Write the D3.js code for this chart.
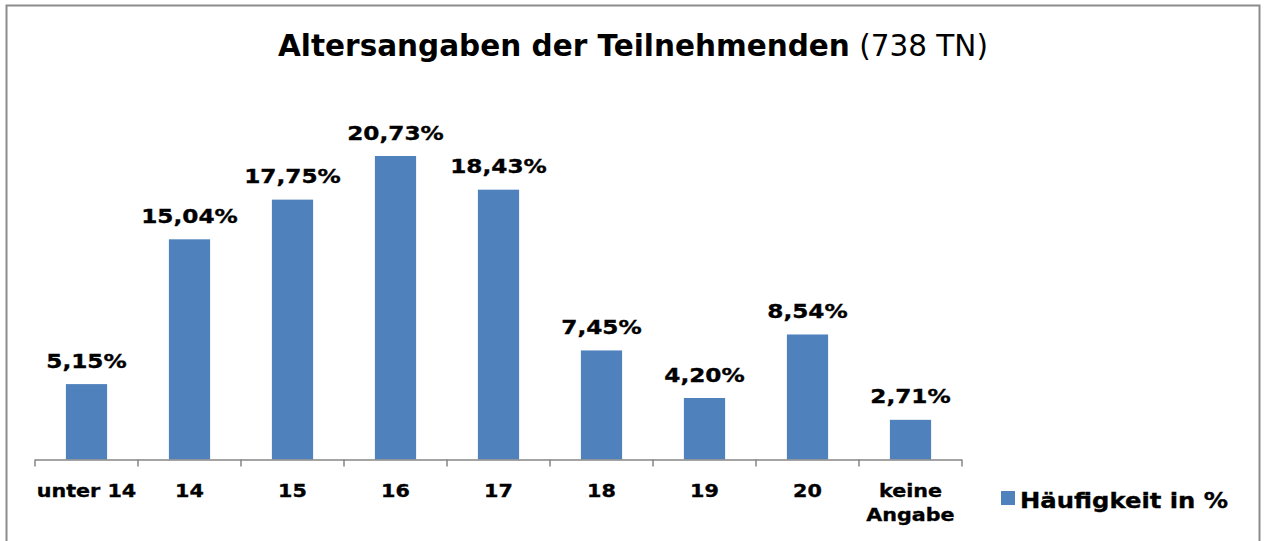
<!DOCTYPE html>
<html>
<head>
<meta charset="utf-8">
<script src="https://cdn.jsdelivr.net/npm/d3@7"></script>
<style>
  body { margin: 0; background: #fff; }
  svg { display: block; font-family: "DejaVu Sans", Verdana, sans-serif; }
  .wide { stroke: #000; stroke-width: 0.35; }
</style>
</head>
<body>
<svg id="chart" width="1264" height="541"></svg>
<script>
"use strict";

const categories = ["unter 14", "14", "15", "16", "17", "18", "19", "20", "keine Angabe"];
const values = [5.15, 15.04, 17.75, 20.73, 18.43, 7.45, 4.20, 8.54, 2.71];
const seriesName = "Häufigkeit in %";
const titleBold = "Altersangaben der Teilnehmenden";
const titleNormal = " (738 TN)";

const svg = d3.select("#chart"),
    left = 35, right = 962, base = 459.5;

// outer border of the chart area
svg.append("rect")
    .attr("x", 6.5).attr("y", 5.5)
    .attr("width", 1253).attr("height", 545)
    .attr("fill", "none").attr("stroke", "#8c8c8c").attr("stroke-width", 2);

const x = d3.scaleBand().domain(categories).range([left, right]).paddingInner(0.6).paddingOuter(0.3),
    y = d3.scaleLinear().domain([0, 25]).range([base, base - 25 * 14.64]);

svg.append("text")
    .attr("x", 633).attr("y", 56)
    .attr("text-anchor", "middle")
    .attr("font-size", 29.5)
    .call(t => {
        t.append("tspan").attr("font-weight", "bold").text(titleBold);
        t.append("tspan").attr("font-weight", "normal").text(titleNormal);
    });

svg.selectAll(".bar")
    .data(values)
    .enter().append("rect")
    .attr("class", "bar")
    .attr("x", (d, i) => x(categories[i]))
    .attr("y", d => y(d))
    .attr("width", x.bandwidth())
    .attr("height", d => base - y(d))
    .attr("fill", "#4f81bd");

// Verdana is wider than DejaVu, so stretch labels horizontally
svg.selectAll(".val")
    .data(values)
    .enter().append("text")
    .attr("class", "val wide")
    .attr("transform", (d, i) =>
        `translate(${x(categories[i]) + x.bandwidth() / 2},${y(d) - 16.5}) scale(1.16,1)`)
    .attr("text-anchor", "middle")
    .attr("font-size", 20)
    .attr("font-weight", "bold")
    .text(d => d.toFixed(2).replace(".", ",") + "%");

// x axis: ticks at band boundaries
const step = (right - left) / categories.length;
const axis = svg.append("g").attr("stroke", "#868686").attr("stroke-width", 1.5);
axis.append("line")
    .attr("x1", left).attr("x2", right)
    .attr("y1", base + 0.5).attr("y2", base + 0.5);
axis.selectAll(".tick")
    .data(d3.range(categories.length + 1))
    .enter().append("line")
    .attr("x1", i => left + i * step).attr("x2", i => left + i * step)
    .attr("y1", base).attr("y2", base + 7);

const labels = svg.selectAll(".cat")
    .data(categories)
    .enter().append("text")
    .attr("class", "cat wide")
    .attr("transform", d => `translate(${x(d) + x.bandwidth() / 2},497) scale(1.15,1)`)
    .attr("text-anchor", "middle")
    .attr("font-size", 18)
    .attr("font-weight", "bold");
labels.each(function(d) {
    const words = d === "keine Angabe" ? ["keine", "Angabe"] : [d];
    words.forEach((w, k) => {
        d3.select(this).append("tspan")
            .attr("x", 0).attr("y", k * 24)
            .text(w);
    });
});

// legend
svg.append("rect")
    .attr("x", 1001).attr("y", 491)
    .attr("width", 14).attr("height", 14)
    .attr("fill", "#4f81bd");
svg.append("text")
    .attr("class", "wide")
    .attr("transform", "translate(1020,508) scale(1.13,1)")
    .attr("font-size", 21.5)
    .attr("font-weight", "bold")
    .text(seriesName);
</script>
</body>
</html>
